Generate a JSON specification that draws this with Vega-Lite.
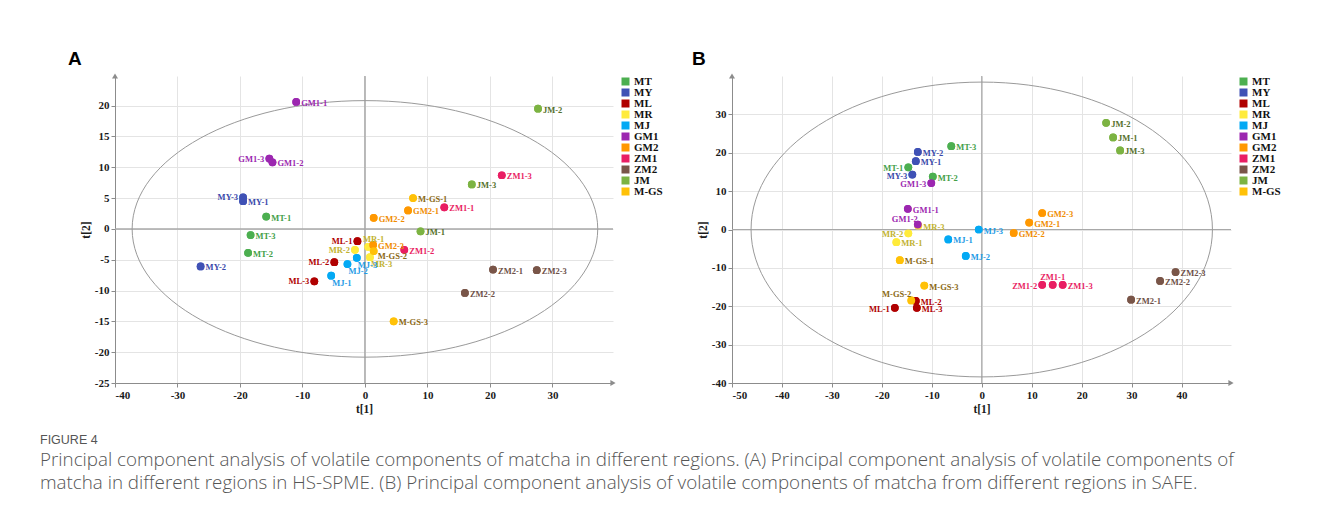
{
  "$schema": "https://vega.github.io/schema/vega-lite/v6.json",
  "background": "white",
  "padding": {"left": 40, "top": 50, "right": 20, "bottom": 15},
  "title": {
    "text": "FIGURE 4",
    "subtitle": [
      "Principal component analysis of volatile components of matcha in different regions. (A) Principal component analysis of volatile components of",
      "matcha in different regions in HS-SPME. (B) Principal component analysis of volatile components of matcha from different regions in SAFE."
    ],
    "orient": "bottom",
    "anchor": "start",
    "frame": "bounds",
    "dx": -28,
    "offset": 19,
    "font": "Liberation Sans",
    "fontSize": 12.5,
    "fontWeight": "normal",
    "color": "#555555",
    "subtitleFont": "Open Sans",
    "subtitleFontSize": 18.8,
    "subtitleFontWeight": 300,
    "subtitleColor": "#555555",
    "subtitleLineHeight": 23,
    "subtitlePadding": 5
  },
  "datasets": {
    "A": [
      {"id": "MT-1", "g": "MT", "x": -15.8, "y": 2.0},
      {"id": "MT-2", "g": "MT", "x": -18.7, "y": -3.9},
      {"id": "MT-3", "g": "MT", "x": -18.3, "y": -1.0},
      {"id": "MY-1", "g": "MY", "x": -19.5, "y": 4.5},
      {"id": "MY-2", "g": "MY", "x": -26.3, "y": -6.1},
      {"id": "MY-3", "g": "MY", "x": -19.5, "y": 5.1},
      {"id": "ML-1", "g": "ML", "x": -1.2, "y": -2.0},
      {"id": "ML-2", "g": "ML", "x": -4.9, "y": -5.4},
      {"id": "ML-3", "g": "ML", "x": -8.1, "y": -8.5},
      {"id": "MR-1", "g": "MR", "x": 0.5, "y": -2.9},
      {"id": "MR-2", "g": "MR", "x": -1.6, "y": -3.4},
      {"id": "MR-3", "g": "MR", "x": 0.8, "y": -4.6},
      {"id": "MJ-1", "g": "MJ", "x": -5.4, "y": -7.6},
      {"id": "MJ-2", "g": "MJ", "x": -2.8, "y": -5.7},
      {"id": "MJ-3", "g": "MJ", "x": -1.3, "y": -4.7},
      {"id": "GM1-1", "g": "GM1", "x": -11.0, "y": 20.6},
      {"id": "GM1-2", "g": "GM1", "x": -14.8, "y": 10.8},
      {"id": "GM1-3", "g": "GM1", "x": -15.3, "y": 11.4},
      {"id": "GM2-1", "g": "GM2", "x": 6.9, "y": 3.0},
      {"id": "GM2-2", "g": "GM2", "x": 1.4, "y": 1.8},
      {"id": "GM2-3", "g": "GM2", "x": 1.3, "y": -2.6},
      {"id": "ZM1-1", "g": "ZM1", "x": 12.7, "y": 3.5},
      {"id": "ZM1-2", "g": "ZM1", "x": 6.3, "y": -3.4},
      {"id": "ZM1-3", "g": "ZM1", "x": 21.9, "y": 8.7},
      {"id": "ZM2-1", "g": "ZM2", "x": 20.5, "y": -6.6},
      {"id": "ZM2-2", "g": "ZM2", "x": 16.0, "y": -10.4},
      {"id": "ZM2-3", "g": "ZM2", "x": 27.5, "y": -6.7},
      {"id": "JM-1", "g": "JM", "x": 8.9, "y": -0.4},
      {"id": "JM-2", "g": "JM", "x": 27.7, "y": 19.5},
      {"id": "JM-3", "g": "JM", "x": 17.1, "y": 7.2},
      {"id": "M-GS-1", "g": "M-GS", "x": 7.7, "y": 5.0},
      {"id": "M-GS-2", "g": "M-GS", "x": 1.4, "y": -3.6},
      {"id": "M-GS-3", "g": "M-GS", "x": 4.6, "y": -15.0}
    ],
    "B": [
      {"id": "MT-1", "g": "MT", "x": -14.7, "y": 16.2},
      {"id": "MT-2", "g": "MT", "x": -9.8, "y": 13.8},
      {"id": "MT-3", "g": "MT", "x": -6.1, "y": 21.7},
      {"id": "MY-1", "g": "MY", "x": -13.2, "y": 17.8},
      {"id": "MY-2", "g": "MY", "x": -12.8, "y": 20.2},
      {"id": "MY-3", "g": "MY", "x": -13.9, "y": 14.3},
      {"id": "ML-1", "g": "ML", "x": -17.4, "y": -20.4},
      {"id": "ML-2", "g": "ML", "x": -13.2, "y": -18.6},
      {"id": "ML-3", "g": "ML", "x": -13.0, "y": -20.4},
      {"id": "MR-1", "g": "MR", "x": -17.1, "y": -3.3},
      {"id": "MR-2", "g": "MR", "x": -14.7, "y": -1.0},
      {"id": "MR-3", "g": "MR", "x": -12.7, "y": 1.0},
      {"id": "MJ-1", "g": "MJ", "x": -6.7, "y": -2.6},
      {"id": "MJ-2", "g": "MJ", "x": -3.2, "y": -6.9},
      {"id": "MJ-3", "g": "MJ", "x": -0.6, "y": 0.0},
      {"id": "GM1-1", "g": "GM1", "x": -14.8, "y": 5.4},
      {"id": "GM1-2", "g": "GM1", "x": -12.8, "y": 1.3},
      {"id": "GM1-3", "g": "GM1", "x": -10.1, "y": 12.1},
      {"id": "GM2-1", "g": "GM2", "x": 9.5, "y": 1.8},
      {"id": "GM2-2", "g": "GM2", "x": 6.4, "y": -0.9},
      {"id": "GM2-3", "g": "GM2", "x": 12.1, "y": 4.3},
      {"id": "ZM1-1", "g": "ZM1", "x": 14.2, "y": -14.4},
      {"id": "ZM1-2", "g": "ZM1", "x": 12.1, "y": -14.4},
      {"id": "ZM1-3", "g": "ZM1", "x": 16.2, "y": -14.4},
      {"id": "ZM2-1", "g": "ZM2", "x": 29.9, "y": -18.3},
      {"id": "ZM2-2", "g": "ZM2", "x": 35.7, "y": -13.4},
      {"id": "ZM2-3", "g": "ZM2", "x": 38.8, "y": -11.1},
      {"id": "JM-1", "g": "JM", "x": 26.3, "y": 24.0},
      {"id": "JM-2", "g": "JM", "x": 24.9, "y": 27.8},
      {"id": "JM-3", "g": "JM", "x": 27.7, "y": 20.6},
      {"id": "M-GS-1", "g": "M-GS", "x": -16.4, "y": -8.0},
      {"id": "M-GS-2", "g": "M-GS", "x": -14.1, "y": -18.5},
      {"id": "M-GS-3", "g": "M-GS", "x": -11.5, "y": -14.6}
    ]
  },
  "spacing": 29,
  "resolve": {
    "scale": {"x": "independent", "y": "independent", "color": "independent", "fill": "independent"},
    "legend": {"color": "independent"}
  },
  "hconcat": [
    {
      "width": 498,
      "height": 307,
      "title": {"text": "A", "anchor": "start", "frame": "group", "dx": -47, "offset": 4, "font": "Liberation Sans", "fontSize": 19, "fontWeight": "bold", "color": "#000000"},
      "data": {"name": "A"},
      "layer": [
        {
          "mark": {"type": "circle", "size": 60, "opacity": 1},
          "encoding": {
            "x": {"field": "x", "type": "quantitative", "scale": {"domain": [-40, 39.7], "nice": false, "zero": false},
              "axis": {"title": "t[1]", "values": [-40, -30, -20, -10, 0, 10, 20, 30], "labelExpr": "'' + datum.value", "grid": true}},
            "y": {"field": "y", "type": "quantitative", "scale": {"domain": [-25, 24.8], "nice": false, "zero": false},
              "axis": {"title": "t[2]", "values": [-25, -20, -15, -10, -5, 0, 5, 10, 15, 20], "labelExpr": "'' + datum.value", "grid": true}},
            "color": {"field": "g", "type": "nominal", "title": null,
              "scale": {"domain": ["MT", "MY", "ML", "MR", "MJ", "GM1", "GM2", "ZM1", "ZM2", "JM", "M-GS"],
                "range": ["#4CAF50", "#3F51B5", "#B00000", "#FFEB3B", "#03A9F4", "#9C27B0", "#FF9800", "#E91E63", "#795548", "#7CB342", "#FFC107"]}}
          }
        },
        {
          "data": {"values": [{}]},
          "mark": {"type": "rule", "color": "#a8a8a8", "strokeWidth": 1.5},
          "encoding": {"x": {"datum": 0}}
        },
        {
          "data": {"values": [{}]},
          "mark": {"type": "rule", "color": "#a8a8a8", "strokeWidth": 1.5},
          "encoding": {"y": {"datum": 0}}
        },
        {
          "data": {"values": [{}]},
          "mark": {"type": "point", "filled": false, "color": "#9a9a9a", "strokeWidth": 1, "opacity": 1, "size": 216784,
            "shape": "M 1 0 C 1 0.3043 0.5523 0.551 0 0.551 C -0.5523 0.551 -1 0.3043 -1 0 C -1 -0.3043 -0.5523 -0.551 0 -0.551 C 0.5523 -0.551 1 -0.3043 1 0 Z"},
          "encoding": {"x": {"datum": 0}, "y": {"datum": 0}}
        },
        {
          "data": {"values": [{}]},
          "mark": {"type": "point", "shape": "triangle-right", "filled": true, "color": "#8c8c8c", "size": 36, "opacity": 1},
          "encoding": {"x": {"datum": 39.7}, "y": {"datum": -25}}
        },
        {
          "data": {"values": [{}]},
          "mark": {"type": "point", "shape": "triangle-up", "filled": true, "color": "#8c8c8c", "size": 36, "opacity": 1},
          "encoding": {"x": {"datum": -40}, "y": {"datum": 24.8}}
        },
        {
          "mark": {"type": "circle", "size": 60, "opacity": 1},
          "encoding": {
            "x": {"field": "x", "type": "quantitative"},
            "y": {"field": "y", "type": "quantitative"},
            "color": {"field": "g", "type": "nominal"}
          }
        },
        {
          "transform": [{"filter": {"not": {"field": "id", "oneOf": ["GM1-3", "MY-3", "ML-1", "MR-2", "ML-2", "ML-3", "MJ-1", "MJ-2", "MJ-3", "MR-3", "M-GS-2", "MR-1"]}}}],
          "mark": {"type": "text", "font": "Liberation Serif", "fontWeight": "bold", "fontSize": 8.5, "align": "left", "baseline": "middle", "dx": 5, "dy": 1},
          "encoding": {
            "x": {"field": "x", "type": "quantitative"},
            "y": {"field": "y", "type": "quantitative"},
            "text": {"field": "id"},
            "fill": {"field": "g", "type": "nominal", "legend": null,
              "scale": {"domain": ["M-GS", "JM", "ZM2", "ZM1", "GM2", "GM1", "MJ", "MR", "ML", "MY", "MT"],
                "range": ["#8B6914", "#55702A", "#6D5048", "#E91E63", "#F08C00", "#9C27B0", "#1E9BE6", "#C2B230", "#B00000", "#3949AB", "#43A047"]}}
          }
        },
        {
          "transform": [{"filter": {"field": "id", "oneOf": ["GM1-3", "MY-3", "ML-1", "MR-2", "ML-2", "ML-3"]}}],
          "mark": {"type": "text", "font": "Liberation Serif", "fontWeight": "bold", "fontSize": 8.5, "align": "right", "baseline": "middle", "dx": -5, "dy": 0},
          "encoding": {
            "x": {"field": "x", "type": "quantitative"},
            "y": {"field": "y", "type": "quantitative"},
            "text": {"field": "id"},
            "fill": {"field": "g", "type": "nominal", "legend": null}
          }
        },
        {
          "transform": [{"filter": {"field": "id", "oneOf": ["MJ-1", "MJ-2", "MJ-3", "MR-3"]}}],
          "mark": {"type": "text", "font": "Liberation Serif", "fontWeight": "bold", "fontSize": 8.5, "align": "left", "baseline": "middle", "dx": 1, "dy": 7},
          "encoding": {
            "x": {"field": "x", "type": "quantitative"},
            "y": {"field": "y", "type": "quantitative"},
            "text": {"field": "id"},
            "fill": {"field": "g", "type": "nominal", "legend": null}
          }
        },
        {
          "transform": [{"filter": {"field": "id", "oneOf": ["M-GS-2"]}}],
          "mark": {"type": "text", "font": "Liberation Serif", "fontWeight": "bold", "fontSize": 8.5, "align": "left", "baseline": "middle", "dx": 4, "dy": 5},
          "encoding": {
            "x": {"field": "x", "type": "quantitative"},
            "y": {"field": "y", "type": "quantitative"},
            "text": {"field": "id"},
            "fill": {"field": "g", "type": "nominal", "legend": null}
          }
        },
        {
          "transform": [{"filter": {"field": "id", "oneOf": ["MR-1"]}}],
          "mark": {"type": "text", "font": "Liberation Serif", "fontWeight": "bold", "fontSize": 8.5, "align": "left", "baseline": "middle", "dx": -5, "dy": -8},
          "encoding": {
            "x": {"field": "x", "type": "quantitative"},
            "y": {"field": "y", "type": "quantitative"},
            "text": {"field": "id"},
            "fill": {"field": "g", "type": "nominal", "legend": null}
          }
        }
      ]
    },
    {
      "width": 499,
      "height": 307,
      "title": {"text": "B", "anchor": "start", "frame": "group", "dx": -40, "offset": 4, "font": "Liberation Sans", "fontSize": 19, "fontWeight": "bold", "color": "#000000"},
      "data": {"name": "B"},
      "layer": [
        {
          "mark": {"type": "circle", "size": 60, "opacity": 1},
          "encoding": {
            "x": {"field": "x", "type": "quantitative", "scale": {"domain": [-50, 49.9], "nice": false, "zero": false},
              "axis": {"title": "t[1]", "values": [-50, -40, -30, -20, -10, 0, 10, 20, 30, 40], "labelExpr": "'' + datum.value", "grid": true}},
            "y": {"field": "y", "type": "quantitative", "scale": {"domain": [-40, 40], "nice": false, "zero": false},
              "axis": {"title": "t[2]", "values": [-40, -30, -20, -10, 0, 10, 20, 30], "labelExpr": "'' + datum.value", "grid": true}},
            "color": {"field": "g", "type": "nominal", "title": null,
              "scale": {"domain": ["MT", "MY", "ML", "MR", "MJ", "GM1", "GM2", "ZM1", "ZM2", "JM", "M-GS"],
                "range": ["#4CAF50", "#3F51B5", "#B00000", "#FFEB3B", "#03A9F4", "#9C27B0", "#FF9800", "#E91E63", "#795548", "#7CB342", "#FFC107"]}}
          }
        },
        {
          "data": {"values": [{}]},
          "mark": {"type": "rule", "color": "#a8a8a8", "strokeWidth": 1.2},
          "encoding": {"x": {"datum": 0}}
        },
        {
          "data": {"values": [{}]},
          "mark": {"type": "rule", "color": "#a8a8a8", "strokeWidth": 1.2},
          "encoding": {"y": {"datum": 0}}
        },
        {
          "data": {"values": [{}]},
          "mark": {"type": "point", "filled": false, "color": "#9a9a9a", "strokeWidth": 1, "opacity": 1, "size": 212890,
            "shape": "M 1 0 C 1 0.3530 0.5523 0.639 0 0.639 C -0.5523 0.639 -1 0.3530 -1 0 C -1 -0.3530 -0.5523 -0.639 0 -0.639 C 0.5523 -0.639 1 -0.3530 1 0 Z"},
          "encoding": {"x": {"datum": 0}, "y": {"datum": 0}}
        },
        {
          "data": {"values": [{}]},
          "mark": {"type": "point", "shape": "triangle-right", "filled": true, "color": "#8c8c8c", "size": 36, "opacity": 1},
          "encoding": {"x": {"datum": 49.9}, "y": {"datum": -40}}
        },
        {
          "data": {"values": [{}]},
          "mark": {"type": "point", "shape": "triangle-up", "filled": true, "color": "#8c8c8c", "size": 36, "opacity": 1},
          "encoding": {"x": {"datum": -50}, "y": {"datum": 40}}
        },
        {
          "mark": {"type": "circle", "size": 60, "opacity": 1},
          "encoding": {
            "x": {"field": "x", "type": "quantitative"},
            "y": {"field": "y", "type": "quantitative"},
            "color": {"field": "g", "type": "nominal"}
          }
        },
        {
          "transform": [{"filter": {"not": {"field": "id", "oneOf": ["MT-1", "MY-3", "GM1-3", "MR-2", "ML-1", "ZM1-2", "GM1-2", "M-GS-2", "ZM1-1"]}}}],
          "mark": {"type": "text", "font": "Liberation Serif", "fontWeight": "bold", "fontSize": 8.5, "align": "left", "baseline": "middle", "dx": 5, "dy": 1},
          "encoding": {
            "x": {"field": "x", "type": "quantitative"},
            "y": {"field": "y", "type": "quantitative"},
            "text": {"field": "id"},
            "fill": {"field": "g", "type": "nominal", "legend": null,
              "scale": {"domain": ["M-GS", "JM", "ZM2", "ZM1", "GM2", "GM1", "MJ", "MR", "ML", "MY", "MT"],
                "range": ["#8B6914", "#55702A", "#6D5048", "#E91E63", "#F08C00", "#9C27B0", "#1E9BE6", "#C2B230", "#B00000", "#3949AB", "#43A047"]}}
          }
        },
        {
          "transform": [{"filter": {"field": "id", "oneOf": ["MT-1", "MY-3", "GM1-3", "MR-2", "ML-1", "ZM1-2"]}}],
          "mark": {"type": "text", "font": "Liberation Serif", "fontWeight": "bold", "fontSize": 8.5, "align": "right", "baseline": "middle", "dx": -5, "dy": 1},
          "encoding": {
            "x": {"field": "x", "type": "quantitative"},
            "y": {"field": "y", "type": "quantitative"},
            "text": {"field": "id"},
            "fill": {"field": "g", "type": "nominal", "legend": null}
          }
        },
        {
          "transform": [{"filter": {"field": "id", "oneOf": ["GM1-2", "M-GS-2"]}}],
          "mark": {"type": "text", "font": "Liberation Serif", "fontWeight": "bold", "fontSize": 8.5, "align": "right", "baseline": "middle", "dx": 0, "dy": -6},
          "encoding": {
            "x": {"field": "x", "type": "quantitative"},
            "y": {"field": "y", "type": "quantitative"},
            "text": {"field": "id"},
            "fill": {"field": "g", "type": "nominal", "legend": null}
          }
        },
        {
          "transform": [{"filter": {"field": "id", "oneOf": ["ZM1-1"]}}],
          "mark": {"type": "text", "font": "Liberation Serif", "fontWeight": "bold", "fontSize": 8.5, "align": "center", "baseline": "middle", "dx": 0, "dy": -8},
          "encoding": {
            "x": {"field": "x", "type": "quantitative"},
            "y": {"field": "y", "type": "quantitative"},
            "text": {"field": "id"},
            "fill": {"field": "g", "type": "nominal", "legend": null}
          }
        }
      ]
    }
  ],
  "config": {
    "view": {"stroke": null},
    "axis": {
      "labelFont": "Liberation Serif", "labelFontWeight": "bold", "labelFontSize": 11, "labelColor": "#1a1a1a",
      "titleFont": "Liberation Serif", "titleFontWeight": "bold", "titleFontSize": 11.5, "titleColor": "#1a1a1a",
      "domainColor": "#8c8c8c", "tickColor": "#8c8c8c", "tickSize": 4, "gridColor": "#e4e4e4", "gridWidth": 1,
      "labelPadding": 2, "titlePadding": 3, "labelOverlap": false, "tickCount": 30
    },
    "legend": {
      "labelFont": "Liberation Serif", "labelFontWeight": "bold", "labelFontSize": 11, "labelColor": "#111111",
      "symbolType": "square", "symbolSize": 64, "symbolStrokeWidth": 0, "symbolOpacity": 1,
      "rowPadding": -1, "padding": 0, "offset": 7, "labelOffset": 3
    }
  }
}
